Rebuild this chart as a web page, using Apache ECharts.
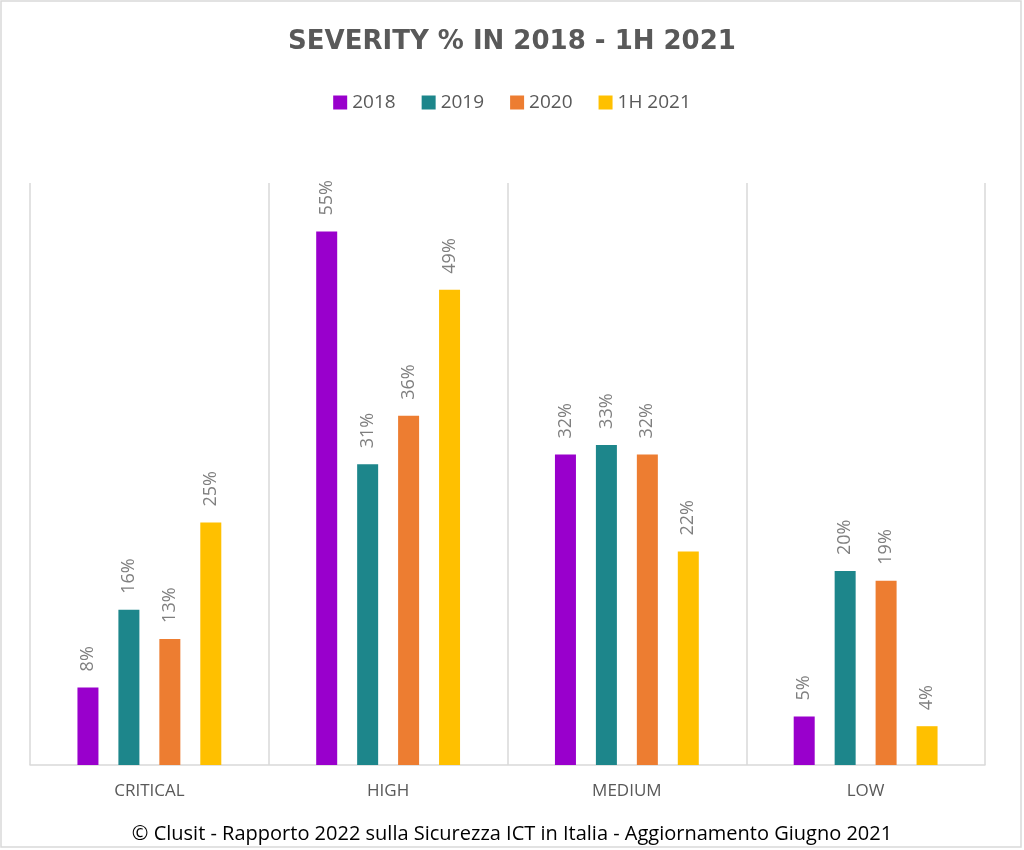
<!DOCTYPE html>
<html>
<head>
<meta charset="utf-8">
<script src="https://cdn.jsdelivr.net/npm/echarts@6/dist/echarts.min.js"></script>
<style>html,body{margin:0;padding:0;background:#fff}#c{width:1024px;height:850px}</style>
</head>
<body>
<div id="c"></div>
<script>
var categories = ['CRITICAL', 'HIGH', 'MEDIUM', 'LOW'];
var seriesNames = ['2018', '2019', '2020', '1H 2021'];
var values2018 = [8, 55, 32, 5];
var values2019 = [16, 31, 33, 20];
var values2020 = [13, 36, 32, 19];
var values1H2021 = [25, 49, 22, 4];
var colors = ['#9900cc', '#1d868b', '#ed7d31', '#ffc000'];

var allValues = [values2018, values2019, values2020, values1H2021];
var chart = echarts.init(document.getElementById('c'));
var series = seriesNames.map(function (name, i) {
  return {
    name: name,
    type: 'bar',
    data: allValues[i],
    barWidth: 21,
    barGap: '95%',
    itemStyle: { color: colors[i] },
    label: {
      show: true,
      position: 'top',
      rotate: 90,
      align: 'left',
      verticalAlign: 'middle',
      distance: 16,
      formatter: '{c}%',
      color: '#7f7f7f',
      fontSize: 18,
      fontFamily: 'Open Sans'
    }
  };
});
chart.setOption({
  animation: false,
  title: [{
    text: 'SEVERITY % IN 2018 - 1H 2021',
    left: 'center',
    top: 24,
    textStyle: { color: '#595959', fontSize: 26, fontWeight: 'bold', fontFamily: 'DejaVu Sans' }
  }, {
    text: '© Clusit - Rapporto 2022 sulla Sicurezza ICT in Italia - Aggiornamento Giugno 2021',
    left: 'center',
    top: 819,
    textStyle: { color: '#000', fontSize: 20, fontWeight: 'normal', fontFamily: 'Open Sans' }
  }],
  legend: {
    top: 88,
    left: 'center',
    itemWidth: 14,
    itemHeight: 14,
    itemGap: 26,
    icon: 'rect',
    textStyle: { color: '#595959', fontSize: 19, fontFamily: 'Open Sans' },
    data: seriesNames
  },
  grid: { left: 30, right: 39, top: 183, bottom: 85 },
  xAxis: {
    type: 'category',
    data: categories,
    axisLine: { lineStyle: { color: '#d9d9d9', width: 1.5 } },
    axisTick: { show: false },
    splitLine: { show: true, lineStyle: { color: '#d9d9d9', width: 1.5 } },
    axisLabel: { color: '#595959', fontSize: 17, margin: 18, fontFamily: 'Open Sans' }
  },
  yAxis: {
    type: 'value',
    min: 0,
    max: 60,
    show: false,
    splitLine: { show: false }
  },
  graphic: [{
    type: 'rect',
    shape: { x: 1, y: 1, width: 1020, height: 846 },
    style: { fill: 'none', stroke: '#d9d9d9', lineWidth: 1.5 },
    silent: true
  }],
  series: series
});
</script>
</body>
</html>
